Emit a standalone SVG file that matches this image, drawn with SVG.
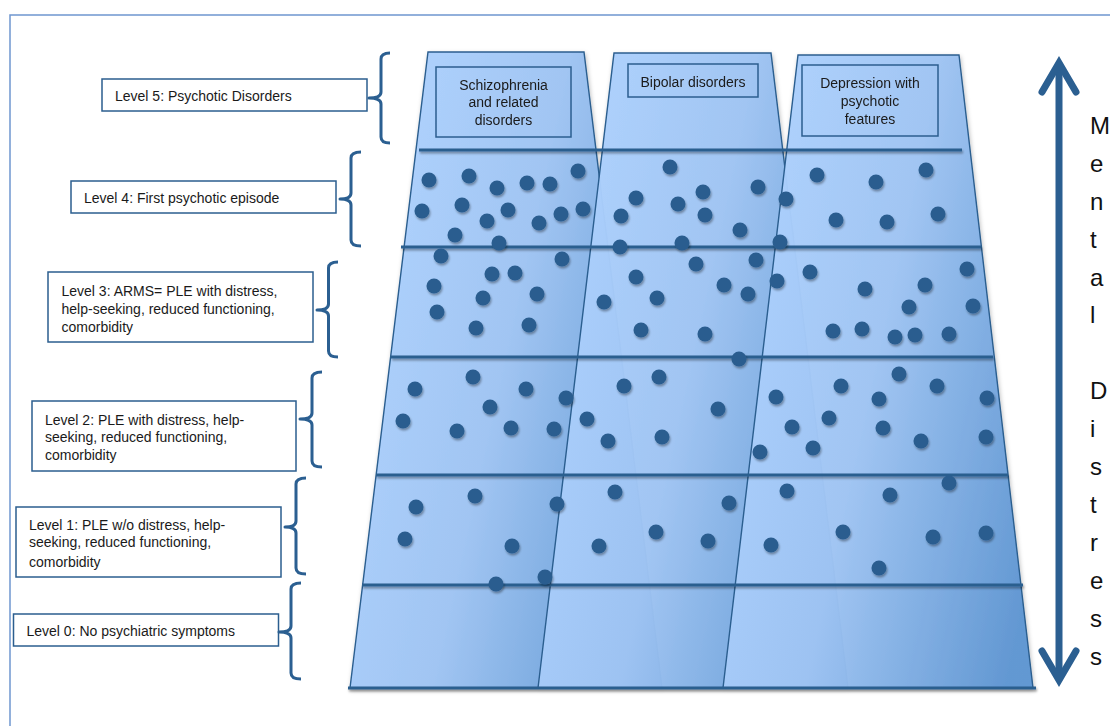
<svg xmlns="http://www.w3.org/2000/svg" xmlns:xlink="http://www.w3.org/1999/xlink" width="1110" height="726" viewBox="0 0 1110 726">
  <defs>
    <linearGradient id="colFill" x1="0.1" y1="0.4" x2="1" y2="0.8">
      <stop offset="0" stop-color="#abcffc"/>
      <stop offset="0.4" stop-color="#9fc4f3"/>
      <stop offset="1" stop-color="#5f96d2"/>
    </linearGradient>
    <filter id="shadow" x="-20%" y="-20%" width="140%" height="160%">
      <feDropShadow dx="1" dy="2" stdDeviation="1.2" flood-color="#000" flood-opacity="0.35"/>
    </filter>
    <filter id="softShadow" x="-5%" y="-5%" width="110%" height="110%">
      <feDropShadow dx="1" dy="2" stdDeviation="2" flood-color="#000" flood-opacity="0.25"/>
    </filter>
    <style>
      .frame { fill: none; stroke: #6f97d0; stroke-width: 1.5; }
      .col { fill: url(#colFill); fill-opacity: 0.97; stroke: #2b5e8f; stroke-width: 1.4; stroke-linejoin: miter; }
      .capbox { fill: none; stroke: #2b5e8f; stroke-width: 1.5; }
      .level { stroke: #2b5e8f; stroke-width: 3.2; fill: none; }
      .dot { fill: #2a5d8f; }
      .label { fill: #ffffff; stroke: #2b5e8f; stroke-width: 1.5; }
      .txt { font-family: "Liberation Sans", Arial, sans-serif; font-size: 14px; fill: #1a1a1a; }
      .mid { text-anchor: middle; }
      .brace { fill: none; stroke: #2b5f91; stroke-width: 3; stroke-linejoin: round; }
      .arrow { fill: none; stroke: #2b5f91; stroke-width: 7; }
      .axis { font-family: "Liberation Sans", Arial, sans-serif; font-size: 24px; fill: #111111; }
    </style>
  </defs>

  <!-- outer frame -->
  <rect class="frame" x="10" y="15" width="1200" height="800"/>

  <!-- the three diagnostic columns -->
  <g id="columns" filter="url(#softShadow)">
    <g id="col-schizophrenia">
      <polygon class="col" points="428,52 584,52 662,688 350,688"/>
      <rect class="capbox" x="436" y="67" width="135" height="70"/>
      <text class="txt mid" x="503.5" y="89.5">Schizophrenia</text>
      <text class="txt mid" x="503.5" y="107">and related</text>
      <text class="txt mid" x="503.5" y="125">disorders</text>
    </g>
    <g id="col-bipolar">
      <polygon class="col" points="614,53 771,53 848,688 538,688"/>
      <rect class="capbox" x="628" y="64" width="130" height="33"/>
      <text class="txt mid" x="693" y="87">Bipolar disorders</text>
    </g>
    <g id="col-depression">
      <polygon class="col" points="798,55 959,55 1033,688 723,688"/>
      <rect class="capbox" x="802" y="65" width="136" height="71"/>
      <text class="txt mid" x="870" y="88">Depression with</text>
      <text class="txt mid" x="870" y="105.5">psychotic</text>
      <text class="txt mid" x="870" y="123.5">features</text>
    </g>
  </g>

  <!-- level dividers -->
  <g id="levels" filter="url(#shadow)">
    <line class="level" x1="419" y1="150" x2="962" y2="150"/>
    <line class="level" x1="401" y1="247" x2="981" y2="247"/>
    <line class="level" x1="391" y1="357" x2="993" y2="357"/>
    <line class="level" x1="376" y1="475" x2="1008" y2="475"/>
    <line class="level" x1="362" y1="585" x2="1023" y2="585"/>
    <line class="level" x1="348" y1="688" x2="1036" y2="688" stroke-width="3.6"/>
  </g>

  <!-- individuals -->
  <g id="dots" filter="url(#shadow)">
    <!-- level 4 -->
    <circle class="dot" cx="429" cy="180" r="7.5"/><circle class="dot" cx="469" cy="176" r="7.5"/>
    <circle class="dot" cx="497" cy="188" r="7.5"/><circle class="dot" cx="527" cy="183" r="7.5"/>
    <circle class="dot" cx="550" cy="184" r="7.5"/><circle class="dot" cx="578" cy="171" r="7.5"/>
    <circle class="dot" cx="422" cy="211" r="7.5"/><circle class="dot" cx="462" cy="205" r="7.5"/>
    <circle class="dot" cx="508" cy="210" r="7.5"/><circle class="dot" cx="487" cy="221" r="7.5"/>
    <circle class="dot" cx="539" cy="223" r="7.5"/><circle class="dot" cx="561" cy="214" r="7.5"/>
    <circle class="dot" cx="583" cy="209" r="7.5"/><circle class="dot" cx="455" cy="235" r="7.5"/>
    <circle class="dot" cx="499" cy="243" r="7.5"/>
    <circle class="dot" cx="670" cy="167" r="7.5"/><circle class="dot" cx="636" cy="198" r="7.5"/>
    <circle class="dot" cx="678" cy="204" r="7.5"/><circle class="dot" cx="703" cy="192" r="7.5"/>
    <circle class="dot" cx="621" cy="216" r="7.5"/><circle class="dot" cx="705" cy="215" r="7.5"/>
    <circle class="dot" cx="758" cy="187" r="7.5"/><circle class="dot" cx="740" cy="230" r="7.5"/>
    <circle class="dot" cx="786" cy="199" r="7.5"/>
    <circle class="dot" cx="817" cy="175" r="7.5"/><circle class="dot" cx="876" cy="182" r="7.5"/>
    <circle class="dot" cx="926" cy="170" r="7.5"/><circle class="dot" cx="836" cy="220" r="7.5"/>
    <circle class="dot" cx="887" cy="222" r="7.5"/><circle class="dot" cx="938" cy="214" r="7.5"/>
    <!-- level 3 -->
    <circle class="dot" cx="441" cy="256" r="7.5"/><circle class="dot" cx="562" cy="259" r="7.5"/>
    <circle class="dot" cx="492" cy="274" r="7.5"/><circle class="dot" cx="515" cy="273" r="7.5"/>
    <circle class="dot" cx="434" cy="286" r="7.5"/><circle class="dot" cx="483" cy="298" r="7.5"/>
    <circle class="dot" cx="537" cy="294" r="7.5"/><circle class="dot" cx="437" cy="312" r="7.5"/>
    <circle class="dot" cx="476" cy="328" r="7.5"/><circle class="dot" cx="529" cy="325" r="7.5"/>
    <circle class="dot" cx="620" cy="247" r="7.5"/><circle class="dot" cx="682" cy="243" r="7.5"/>
    <circle class="dot" cx="696" cy="264" r="7.5"/><circle class="dot" cx="636" cy="277" r="7.5"/>
    <circle class="dot" cx="657" cy="298" r="7.5"/><circle class="dot" cx="604" cy="302" r="7.5"/>
    <circle class="dot" cx="641" cy="330" r="7.5"/><circle class="dot" cx="705" cy="334" r="7.5"/>
    <circle class="dot" cx="756" cy="260" r="7.5"/><circle class="dot" cx="724" cy="285" r="7.5"/>
    <circle class="dot" cx="748" cy="294" r="7.5"/><circle class="dot" cx="777" cy="281" r="7.5"/>
    <circle class="dot" cx="780" cy="242" r="7.5"/>
    <circle class="dot" cx="810" cy="272" r="7.5"/><circle class="dot" cx="865" cy="289" r="7.5"/>
    <circle class="dot" cx="925" cy="285" r="7.5"/><circle class="dot" cx="967" cy="269" r="7.5"/>
    <circle class="dot" cx="909" cy="307" r="7.5"/><circle class="dot" cx="973" cy="306" r="7.5"/>
    <circle class="dot" cx="833" cy="331" r="7.5"/><circle class="dot" cx="862" cy="329" r="7.5"/>
    <circle class="dot" cx="895" cy="337" r="7.5"/><circle class="dot" cx="915" cy="335" r="7.5"/>
    <circle class="dot" cx="949" cy="334" r="7.5"/>
    <!-- level 2 -->
    <circle class="dot" cx="415" cy="389" r="7.5"/><circle class="dot" cx="473" cy="377" r="7.5"/>
    <circle class="dot" cx="526" cy="389" r="7.5"/><circle class="dot" cx="490" cy="407" r="7.5"/>
    <circle class="dot" cx="403" cy="421" r="7.5"/><circle class="dot" cx="457" cy="431" r="7.5"/>
    <circle class="dot" cx="511" cy="428" r="7.5"/><circle class="dot" cx="554" cy="429" r="7.5"/>
    <circle class="dot" cx="566" cy="398" r="7.5"/>
    <circle class="dot" cx="624" cy="386" r="7.5"/><circle class="dot" cx="659" cy="377" r="7.5"/>
    <circle class="dot" cx="587" cy="419" r="7.5"/><circle class="dot" cx="608" cy="441" r="7.5"/>
    <circle class="dot" cx="662" cy="437" r="7.5"/><circle class="dot" cx="718" cy="409" r="7.5"/>
    <circle class="dot" cx="739" cy="359" r="7.5"/>
    <circle class="dot" cx="776" cy="397" r="7.5"/><circle class="dot" cx="841" cy="386" r="7.5"/>
    <circle class="dot" cx="899" cy="374" r="7.5"/><circle class="dot" cx="937" cy="386" r="7.5"/>
    <circle class="dot" cx="987" cy="398" r="7.5"/><circle class="dot" cx="879" cy="399" r="7.5"/>
    <circle class="dot" cx="829" cy="418" r="7.5"/><circle class="dot" cx="792" cy="427" r="7.5"/>
    <circle class="dot" cx="883" cy="428" r="7.5"/><circle class="dot" cx="921" cy="441" r="7.5"/>
    <circle class="dot" cx="986" cy="437" r="7.5"/><circle class="dot" cx="760" cy="452" r="7.5"/>
    <circle class="dot" cx="813" cy="448" r="7.5"/>
    <!-- level 1 -->
    <circle class="dot" cx="416" cy="507" r="7.5"/><circle class="dot" cx="475" cy="496" r="7.5"/>
    <circle class="dot" cx="405" cy="539" r="7.5"/><circle class="dot" cx="512" cy="546" r="7.5"/>
    <circle class="dot" cx="557" cy="504" r="7.5"/><circle class="dot" cx="496" cy="584" r="7.5"/>
    <circle class="dot" cx="545" cy="577" r="7.5"/>
    <circle class="dot" cx="615" cy="492" r="7.5"/><circle class="dot" cx="599" cy="546" r="7.5"/>
    <circle class="dot" cx="656" cy="532" r="7.5"/><circle class="dot" cx="708" cy="541" r="7.5"/>
    <circle class="dot" cx="729" cy="503" r="7.5"/>
    <circle class="dot" cx="787" cy="491" r="7.5"/><circle class="dot" cx="890" cy="495" r="7.5"/>
    <circle class="dot" cx="949" cy="483" r="7.5"/><circle class="dot" cx="843" cy="532" r="7.5"/>
    <circle class="dot" cx="771" cy="545" r="7.5"/><circle class="dot" cx="933" cy="537" r="7.5"/>
    <circle class="dot" cx="986" cy="533" r="7.5"/><circle class="dot" cx="879" cy="568" r="7.5"/>
  </g>

  <!-- level labels -->
  <g id="label-level5">
    <rect class="label" x="102" y="79" width="265" height="32"/>
    <text class="txt" x="115" y="101">Level 5: Psychotic Disorders</text>
  </g>
  <g id="label-level4">
    <rect class="label" x="71" y="181" width="265" height="32"/>
    <text class="txt" x="84" y="203">Level 4: First psychotic episode</text>
  </g>
  <g id="label-level3">
    <rect class="label" x="48" y="272" width="265" height="70"/>
    <text class="txt" x="61.5" y="296">Level 3: ARMS= PLE with distress,</text>
    <text class="txt" x="61.5" y="313.5">help-seeking, reduced functioning,</text>
    <text class="txt" x="61.5" y="331.5">comorbidity</text>
  </g>
  <g id="label-level2">
    <rect class="label" x="32" y="401" width="264" height="70"/>
    <text class="txt" x="45" y="425">Level 2: PLE with distress, help-</text>
    <text class="txt" x="45" y="441.5">seeking, reduced functioning,</text>
    <text class="txt" x="45" y="459.5">comorbidity</text>
  </g>
  <g id="label-level1">
    <rect class="label" x="16" y="507" width="265" height="70"/>
    <text class="txt" x="29" y="530">Level 1: PLE w/o distress, help-</text>
    <text class="txt" x="29" y="547">seeking, reduced functioning,</text>
    <text class="txt" x="29" y="566.5">comorbidity</text>
  </g>
  <g id="label-level0">
    <rect class="label" x="13.5" y="614" width="265" height="32"/>
    <text class="txt" x="26.5" y="636">Level 0: No psychiatric symptoms</text>
  </g>

  <!-- braces tying labels to levels, and the distress axis -->
  <g id="connectors">
    <path class="brace" d="M390,53 Q381,53 381,59 L381,92 Q381,98 369,98 Q381,98 381,104 L381,137 Q381,143 390,143"/>
    <path class="brace" d="M361,152 Q351,152 351,158 L351,193 Q351,199 340,199 Q351,199 351,205 L351,240 Q351,246 361,246"/>
    <path class="brace" d="M338,262 Q328.5,262 328.5,268 L328.5,304 Q328.5,310 317,310 Q328.5,310 328.5,316 L328.5,351 Q328.5,357 338,357"/>
    <path class="brace" d="M322,372 Q312,372 312,378 L312,413 Q312,419 300,419 Q312,419 312,425 L312,461 Q312,467 322,467"/>
    <path class="brace" d="M306,478 Q296,478 296,484 L296,521 Q296,527 285,527 Q296,527 296,533 L296,568 Q296,574 306,574"/>
    <path class="brace" d="M301,583 Q291,583 291,589 L291,626 Q291,632 279,632 Q291,632 291,638 L291,673 Q291,679 301,679"/>
    <g id="distress-arrow">
      <line class="arrow" x1="1059" y1="64" x2="1059" y2="679"/>
      <polyline class="arrow" points="1042,92 1059,63 1076,92" stroke-linecap="round" stroke-linejoin="miter"/>
      <polyline class="arrow" points="1042,651 1059,680 1076,651" stroke-linecap="round" stroke-linejoin="miter"/>
    </g>
  </g>

  <!-- axis caption, one letter per line -->
  <g id="axis-label" class="axis">
    <text x="1090" y="134">M</text>
    <text x="1090" y="172">e</text>
    <text x="1090" y="210">n</text>
    <text x="1090" y="248">t</text>
    <text x="1090" y="286">a</text>
    <text x="1090" y="323">l</text>
    <text x="1090" y="399">D</text>
    <text x="1090" y="437">i</text>
    <text x="1090" y="475">s</text>
    <text x="1090" y="513">t</text>
    <text x="1090" y="551">r</text>
    <text x="1090" y="589">e</text>
    <text x="1090" y="627">s</text>
    <text x="1090" y="665">s</text>
  </g>
</svg>
